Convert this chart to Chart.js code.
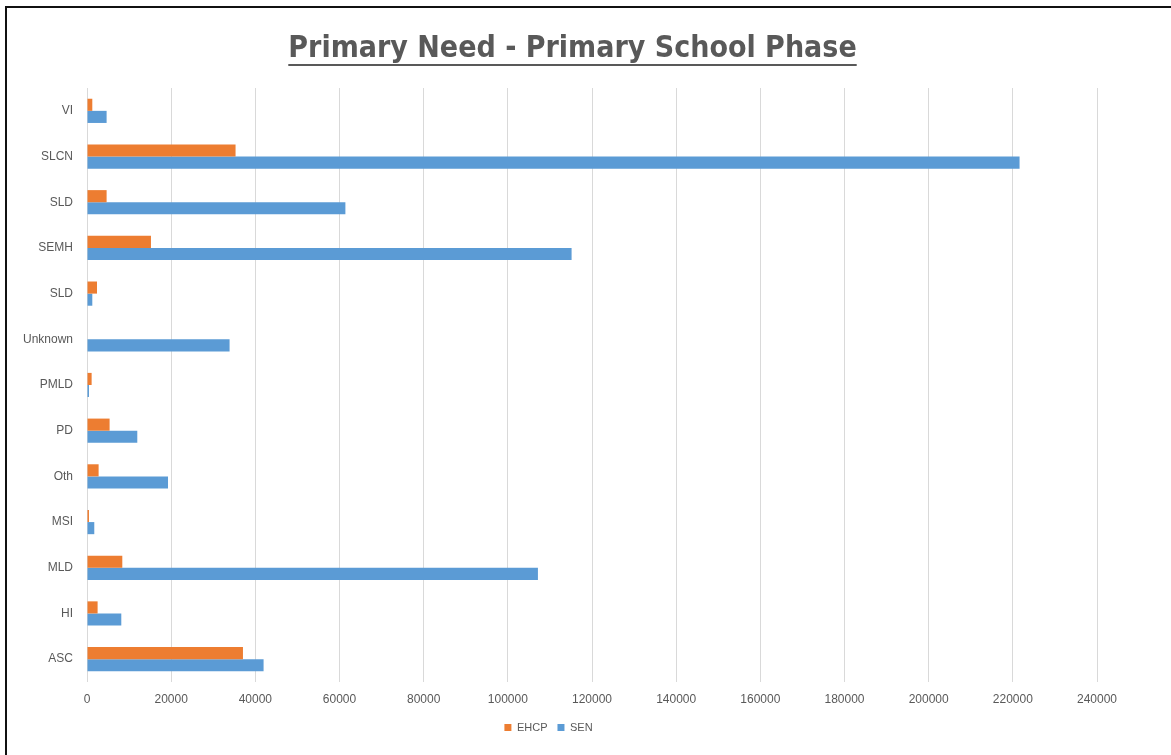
<!DOCTYPE html>
<html>
<head>
<meta charset="utf-8">
<script src="https://cdn.jsdelivr.net/npm/chart.js@4"></script>
<style>
    html, body { margin: 0; padding: 0; background: #fff; }
    #wrap { position: relative; width: 1171px; height: 755px; overflow: hidden; }
    #frame {
        position: absolute; left: 5px; top: 6px; right: -10px; bottom: -10px;
        border-left: 2px solid #111; border-top: 2px solid #111;
        pointer-events: none;
    }
    #title {
        position: absolute; left: 0; width: 1145px; top: 29px;
        text-align: center;
        font-family: "Liberation Sans Narrow", "DejaVu Sans Condensed", sans-serif;
        font-weight: bold; font-size: 30px; color: #595959;
        text-decoration: underline; text-decoration-thickness: 2px; text-underline-offset: 7px;
    }
    canvas { position: absolute; left: 0; top: 0; }
</style>
</head>
<body>
<div id="wrap">
    <canvas id="chart" width="1171" height="755"></canvas>
    <div id="title">Primary Need - Primary School Phase</div>
    <div id="frame"></div>
</div>
<script>
const categories = ["VI", "SLCN", "SLD", "SEMH", "SLD", "Unknown", "PMLD", "PD", "Oth", "MSI", "MLD", "HI", "ASC"];
const ehcp = [1260, 35300, 4660, 15200, 2380, 0, 1100, 5370, 2760, 470, 8390, 2520, 37060];
const sen = [4660, 221600, 61400, 115150, 1260, 33880, 470, 11950, 19250, 1730, 107150, 8150, 41960];
const xTicks = [0, 20000, 40000, 60000, 80000, 100000, 120000, 140000, 160000, 180000, 200000, 220000, 240000];

const labelFont = { family: "Liberation Sans, Arial, sans-serif", size: 12 };
const grey = "#595959";

new Chart(document.getElementById("chart"), {
    type: "bar",
    data: {
        labels: categories,
        datasets: [
            { label: "EHCP", data: ehcp, backgroundColor: "#ED7D31" },
            { label: "SEN", data: sen, backgroundColor: "#5B9BD5" }
        ]
    },
    options: {
        indexAxis: "y",
        responsive: false,
        animation: false,
        categoryPercentage: 0.53,
        barPercentage: 1,
        layout: { padding: { top: 88, right: 74, bottom: 12, left: 0 } },
        scales: {
            x: {
                min: 0,
                max: 240000,
                afterBuildTicks: (scale) => { scale.ticks = xTicks.map(v => ({ value: v })); },
                afterFit: (scale) => { scale.height = 30; },
                grid: { color: "#D9D9D9", drawTicks: false },
                border: { display: false },
                ticks: { color: grey, font: labelFont, padding: 10, maxRotation: 0, callback: (v) => String(v) }
            },
            y: {
                afterFit: (scale) => { scale.width = 87; },
                grid: { display: false, drawTicks: false },
                border: { display: false },
                ticks: { color: grey, font: labelFont, padding: 14, autoSkip: false }
            }
        },
        plugins: {
            legend: {
                position: "bottom",
                labels: { boxWidth: 7, boxHeight: 7, color: grey, font: { family: "Liberation Sans, Arial, sans-serif", size: 11 }, padding: 10 }
            },
            tooltip: { enabled: false }
        }
    }
});
</script>
</body>
</html>
